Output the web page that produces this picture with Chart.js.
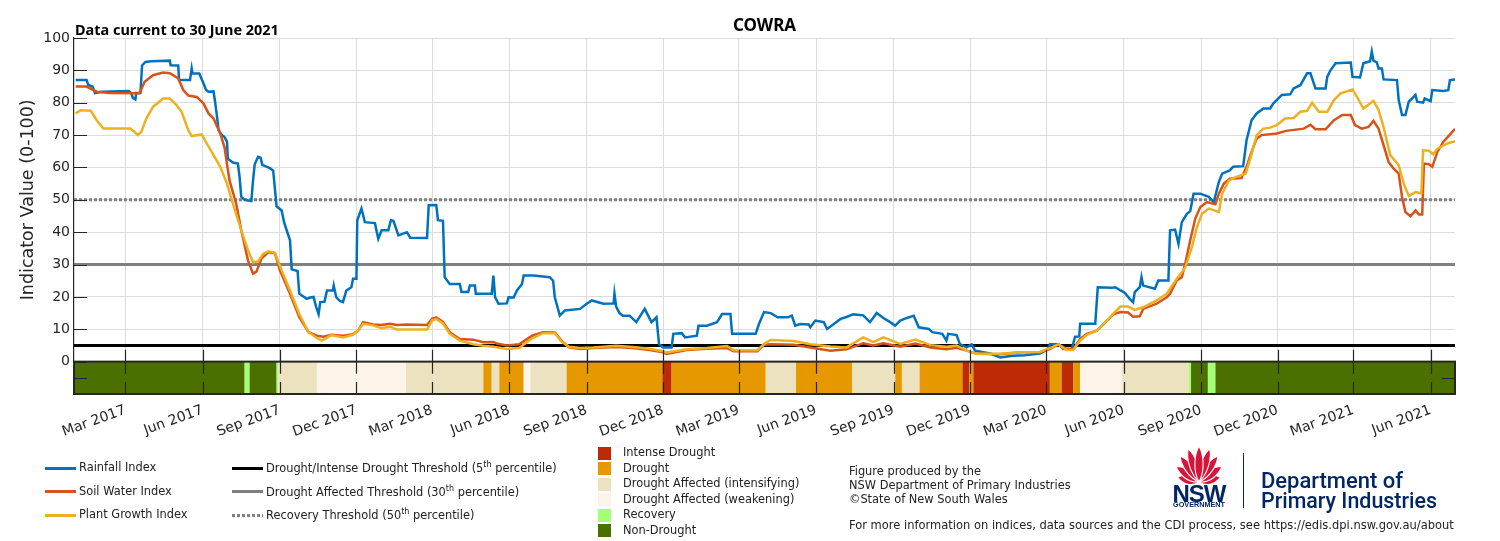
<!DOCTYPE html>
<html><head><meta charset="utf-8">
<script src="https://cdn.jsdelivr.net/npm/chart.js@4.4.1/dist/chart.umd.min.js"></script>
<style>
html,body{margin:0;padding:0;background:#fff;}
#wrap{position:relative;width:1500px;height:541px;overflow:hidden;font-family:'DejaVu Sans',sans-serif;color:#262626;}
#c{position:absolute;left:0;top:0;}
.t{position:absolute;white-space:nowrap;line-height:1;transform:translateY(-50%);}
.tc{position:absolute;white-space:nowrap;line-height:1;transform:translate(-50%,-50%);}
.ln{position:absolute;height:3px;width:31px;}
.sq{position:absolute;width:13px;height:13px;}
.lg{font-size:11.4px;color:#222;}
sup{font-size:8px;line-height:0;vertical-align:5px;}
</style></head>
<body><div id="wrap">
<canvas id="c" width="1500" height="541"></canvas>
<div class="tc" id="ttl" style="left:764.5px;top:24px;font-family:'Noto Sans';font-weight:bold;font-size:17px;color:#000;">COWRA</div>
<div class="t" id="cur" style="left:75px;top:30px;font-family:'Noto Sans';font-weight:bold;font-size:13px;color:#000;">Data current to 30 June 2021</div>

<div class="ln" style="left:45px;top:466.5px;background:#0072BD"></div>
<div class="t lg" style="left:79px;top:468px">Rainfall Index</div>
<div class="ln" style="left:45px;top:490px;background:#D95319"></div>
<div class="t lg" style="left:79px;top:491.5px">Soil Water Index</div>
<div class="ln" style="left:45px;top:513.5px;background:#EDB120"></div>
<div class="t lg" style="left:79px;top:515px">Plant Growth Index</div>

<div class="ln" style="left:232px;top:466.5px;background:#000"></div>
<div class="t lg" style="left:266px;top:469px">Drought/Intense Drought Threshold (5<sup>th</sup> percentile)</div>
<div class="ln" style="left:232px;top:490px;background:#808080"></div>
<div class="t lg" style="left:266px;top:492.5px">Drought Affected Threshold (30<sup>th</sup> percentile)</div>
<div class="ln" style="left:232px;top:513.5px;background:repeating-linear-gradient(to right,#808080 0 3px,transparent 3px 5px)"></div>
<div class="t lg" style="left:266px;top:516px">Recovery Threshold (50<sup>th</sup> percentile)</div>

<div id="catLegend"></div>

<div class="t lg" style="left:849px;top:472px">Figure produced by the</div>
<div class="t lg" style="left:849px;top:486px">NSW Department of Primary Industries</div>
<div class="t lg" style="left:849px;top:500px">©State of New South Wales</div>
<div class="t lg" id="more" style="left:849px;top:526px">For more information on indices, data sources and the CDI process, see https://edis.dpi.nsw.gov.au/about</div>

<svg style="position:absolute;left:1171px;top:445px" width="56" height="40" viewBox="0 0 56 40">
 <g fill="#D7153A" stroke="#fff" stroke-width="1.1">
  <path transform="translate(28,37) rotate(-78)" d="M0 0 C-7 -7,-5 -16,0 -22 C5 -16,7 -7,0 0Z"/>
  <path transform="translate(28,37) rotate(78)" d="M0 0 C-7 -7,-5 -16,0 -22 C5 -16,7 -7,0 0Z"/>
  <path transform="translate(28,37) rotate(-56)" d="M0 0 C-7 -9,-5 -20,0 -28 C5 -20,7 -9,0 0Z"/>
  <path transform="translate(28,37) rotate(56)" d="M0 0 C-7 -9,-5 -20,0 -28 C5 -20,7 -9,0 0Z"/>
  <path transform="translate(28,37) rotate(-36)" d="M0 0 C-6 -10,-5 -24,0 -32 C5 -24,6 -10,0 0Z"/>
  <path transform="translate(28,37) rotate(36)" d="M0 0 C-6 -10,-5 -24,0 -32 C5 -24,6 -10,0 0Z"/>
  <path transform="translate(28,37) rotate(-18)" d="M0 0 C-6 -11,-5 -26,0 -35 C5 -26,6 -11,0 0Z"/>
  <path transform="translate(28,37) rotate(18)" d="M0 0 C-6 -11,-5 -26,0 -35 C5 -26,6 -11,0 0Z"/>
  <path transform="translate(28,37)" d="M0 0 C-6 -11,-5 -27,0 -36 C5 -27,6 -11,0 0Z"/>
 </g>
</svg>
<div class="tc" id="nsw" style="left:1199px;top:494px;font-family:'Liberation Sans';font-weight:bold;font-size:24px;color:#002664;letter-spacing:-1px">NSW</div>
<div class="tc" id="gov" style="left:1199px;top:505px;font-family:'Liberation Sans';font-weight:bold;font-size:5px;color:#002664;">GOVERNMENT</div>
<div style="position:absolute;left:1242.5px;top:453px;width:1.5px;height:55px;background:#002664"></div>
<div class="t" id="dep1" style="left:1261px;top:481px;font-family:Roboto;font-weight:500;font-size:20px;color:#002664;">Department of</div>
<div class="t" id="dep2" style="left:1261px;top:501px;font-family:Roboto;font-weight:500;font-size:20px;color:#002664;">Primary Industries</div>
</div>
<script>
// ---------------- data ----------------
const axisStart = '2016-12-30';
const axisEnd = '2021-06-30';
const tickDates = ['2017-03-01','2017-06-01','2017-09-01','2017-12-01','2018-03-01','2018-06-01','2018-09-01','2018-12-01','2019-03-01','2019-06-01','2019-09-01','2019-12-01','2020-03-01','2020-06-01','2020-09-01','2020-12-01','2021-03-01','2021-06-01'];
const tickLabels = ['Mar 2017','Jun 2017','Sep 2017','Dec 2017','Mar 2018','Jun 2018','Sep 2018','Dec 2018','Mar 2019','Jun 2019','Sep 2019','Dec 2019','Mar 2020','Jun 2020','Sep 2020','Dec 2020','Mar 2021','Jun 2021'];
const yTickValues = [-5,0,10,20,30,40,50,60,70,80,90,100];

const rainDates = ['2017-01-01','2017-01-14','2017-01-16','2017-01-21','2017-01-24','2017-02-01','2017-03-05','2017-03-08','2017-03-10','2017-03-13','2017-03-14','2017-03-19','2017-03-21','2017-03-25','2017-04-01','2017-04-23','2017-04-24','2017-05-03','2017-05-04','2017-05-17','2017-05-19','2017-05-20','2017-05-28','2017-06-02','2017-06-05','2017-06-08','2017-06-14','2017-06-16','2017-06-18','2017-06-20','2017-06-23','2017-06-27','2017-06-30','2017-07-01','2017-07-07','2017-07-13','2017-07-15','2017-07-17','2017-07-21','2017-07-29','2017-07-31','2017-08-02','2017-08-06','2017-08-09','2017-08-11','2017-08-20','2017-08-24','2017-08-28','2017-09-03','2017-09-06','2017-09-09','2017-09-13','2017-09-15','2017-09-22','2017-09-24','2017-10-03','2017-10-07','2017-10-11','2017-10-14','2017-10-17','2017-10-19','2017-10-24','2017-10-27','2017-11-03','2017-11-04','2017-11-07','2017-11-11','2017-11-15','2017-11-19','2017-11-25','2017-11-27','2017-12-01','2017-12-02','2017-12-07','2017-12-11','2017-12-23','2017-12-27','2017-12-31','2018-01-08','2018-01-11','2018-01-14','2018-01-20','2018-01-30','2018-02-03','2018-02-23','2018-02-25','2018-03-06','2018-03-08','2018-03-14','2018-03-16','2018-03-22','2018-04-03','2018-04-05','2018-04-13','2018-04-15','2018-04-21','2018-04-22','2018-05-11','2018-05-13','2018-05-15','2018-05-19','2018-05-29','2018-05-31','2018-06-06','2018-06-10','2018-06-16','2018-06-18','2018-06-30','2018-07-19','2018-07-23','2018-07-25','2018-07-31','2018-08-06','2018-08-24','2018-09-01','2018-09-07','2018-09-21','2018-10-03','2018-10-04','2018-10-06','2018-10-10','2018-10-14','2018-10-22','2018-10-30','2018-11-09','2018-11-17','2018-11-23','2018-11-26','2018-12-01','2018-12-11','2018-12-13','2018-12-23','2018-12-27','2019-01-10','2019-01-12','2019-01-22','2019-02-03','2019-02-09','2019-02-19','2019-02-21','2019-03-21','2019-03-25','2019-03-31','2019-04-08','2019-04-16','2019-04-28','2019-05-03','2019-05-07','2019-05-13','2019-05-23','2019-05-25','2019-05-31','2019-06-10','2019-06-14','2019-06-22','2019-06-30','2019-07-07','2019-07-15','2019-07-27','2019-08-04','2019-08-12','2019-08-20','2019-08-28','2019-09-03','2019-09-09','2019-09-17','2019-09-25','2019-10-01','2019-10-13','2019-10-17','2019-10-29','2019-11-03','2019-11-05','2019-11-15','2019-11-19','2019-11-27','2019-12-03','2019-12-07','2019-12-25','2020-01-06','2020-01-21','2020-02-04','2020-02-22','2020-03-03','2020-03-05','2020-03-15','2020-03-21','2020-03-31','2020-04-04','2020-04-09','2020-04-10','2020-04-28','2020-05-01','2020-05-18','2020-05-22','2020-05-28','2020-06-02','2020-06-08','2020-06-12','2020-06-14','2020-06-20','2020-06-22','2020-06-24','2020-07-08','2020-07-12','2020-07-24','2020-07-26','2020-08-01','2020-08-05','2020-08-09','2020-08-15','2020-08-19','2020-08-23','2020-08-31','2020-09-10','2020-09-16','2020-09-22','2020-09-26','2020-10-05','2020-10-09','2020-10-21','2020-10-25','2020-10-27','2020-10-31','2020-11-06','2020-11-14','2020-11-22','2020-11-26','2020-12-06','2020-12-16','2020-12-20','2020-12-28','2021-01-05','2021-01-09','2021-01-15','2021-01-27','2021-01-29','2021-02-02','2021-02-08','2021-02-26','2021-02-28','2021-03-09','2021-03-13','2021-03-21','2021-03-23','2021-03-25','2021-03-29','2021-03-31','2021-04-04','2021-04-06','2021-04-22','2021-04-24','2021-04-28','2021-05-02','2021-05-06','2021-05-14','2021-05-16','2021-05-23','2021-05-25','2021-06-01','2021-06-03','2021-06-16','2021-06-22','2021-06-24','2021-06-30'];
const rainValues = [87,87,85.5,85,83,83.4,83.6,83,81.5,81,83,83,91.5,92.6,92.8,93,91.6,91.5,87,87,90.6,89,89,86,84,83.4,83.5,80,76,71.5,70.3,69.4,68,62.7,61.5,61.2,57,51,50,49.6,56,61,63.3,63,60.8,59.8,59,48,46.7,43,40.6,37.5,28.5,28,21,19.4,19.8,20,17,14.7,18.4,18.5,22,22,23.5,19.9,18.8,18.4,22,23,25.6,25.6,43.7,47.3,43.1,42.8,38,40.6,40.6,43.7,43.5,39,40,38.3,38.2,48.3,48.4,43.7,43.5,26.1,24,24,21.5,21.5,23.5,23.5,21,21,26.6,19.9,17.9,18,19.9,19.8,22,24,26.6,26.6,26.1,25,19.9,14.2,15.8,16.3,17.9,18.9,17.9,18,21,17,15,14.2,14.2,12.2,16.3,12.2,13.7,5.4,4.4,4.4,8.6,8.8,7.5,8,11.1,11.1,12.2,14.7,14.7,8.6,8.6,11.7,15.3,15,13.7,13.7,14.2,11.1,11.6,11.5,10.6,12.7,12.2,10.1,11.6,13.2,13.8,14.6,14.3,12.2,15,13.5,12.2,11.1,12.7,13.5,14.2,10.6,10.1,9.1,8.6,6.5,8.6,8.2,5.4,4.4,5.3,3.4,2.5,1.3,1.8,2,2.5,3.9,5.4,5.4,3.9,3.9,7.7,7.8,11.7,11.7,23,22.8,23,22,21.3,19.4,18.4,21.5,23,26.1,23.5,22.5,25.1,25.1,40.6,40.8,36.4,43.1,45.7,46.5,51.9,51.9,50.9,49.3,55.5,58.1,59.1,60.2,60.4,68.4,70.5,74.6,76.7,78.2,78.2,79.8,82.4,82.6,84.4,85.4,89.1,89.1,84.4,84.4,88,90.1,92.2,92.4,88,87.8,92.2,92.8,95.8,93,92.5,90.6,90.6,87.2,87,80.8,76.2,76.2,80.3,82.4,80.3,80,81.3,80.5,83.9,83.6,83.9,87,87.2];

const soilDates = ['2017-01-01','2017-01-14','2017-01-26','2017-02-10','2017-03-18','2017-03-24','2017-04-03','2017-04-15','2017-04-23','2017-05-03','2017-05-09','2017-05-15','2017-05-25','2017-06-02','2017-06-08','2017-06-14','2017-06-22','2017-06-27','2017-07-03','2017-07-11','2017-07-17','2017-07-25','2017-07-31','2017-08-04','2017-08-10','2017-08-18','2017-08-26','2017-09-01','2017-09-13','2017-09-24','2017-10-05','2017-10-15','2017-10-23','2017-11-01','2017-11-15','2017-11-27','2017-12-03','2017-12-09','2017-12-21','2017-12-31','2018-01-10','2018-01-18','2018-01-30','2018-02-23','2018-03-01','2018-03-06','2018-03-14','2018-03-22','2018-04-03','2018-04-19','2018-05-01','2018-05-13','2018-05-17','2018-05-29','2018-06-13','2018-06-28','2018-07-11','2018-07-25','2018-08-02','2018-08-11','2018-08-24','2018-09-09','2018-10-06','2018-10-26','2018-11-15','2018-12-01','2018-12-05','2018-12-29','2019-01-22','2019-02-15','2019-02-23','2019-03-23','2019-03-31','2019-04-08','2019-05-05','2019-05-25','2019-06-18','2019-07-07','2019-07-27','2019-08-08','2019-08-20','2019-09-09','2019-09-27','2019-10-15','2019-11-03','2019-11-15','2019-11-27','2019-12-09','2020-01-06','2020-01-30','2020-02-22','2020-03-05','2020-03-15','2020-03-25','2020-04-02','2020-04-10','2020-04-18','2020-04-30','2020-05-12','2020-05-20','2020-05-28','2020-06-06','2020-06-12','2020-06-20','2020-06-24','2020-07-10','2020-07-22','2020-07-26','2020-08-03','2020-08-09','2020-08-13','2020-08-19','2020-08-25','2020-08-31','2020-09-08','2020-09-18','2020-09-22','2020-09-28','2020-10-05','2020-10-19','2020-10-25','2020-10-31','2020-11-06','2020-11-12','2020-11-30','2020-12-11','2021-01-01','2021-01-09','2021-01-15','2021-01-27','2021-02-06','2021-02-16','2021-02-26','2021-03-03','2021-03-11','2021-03-19','2021-03-25','2021-03-31','2021-04-06','2021-04-12','2021-04-18','2021-04-24','2021-04-28','2021-05-02','2021-05-08','2021-05-14','2021-05-18','2021-05-22','2021-05-24','2021-05-30','2021-06-03','2021-06-09','2021-06-16','2021-06-30'];
const soilValues = [85,85,83.4,83,82.9,86.5,88.5,89.3,89.1,87.5,83.9,82.2,81.8,79.8,76.7,75.1,70.5,66.3,56,48.8,40.6,31.3,27.2,27.8,31.8,33.8,33.5,28.2,21,13.7,9.1,8,7.7,8.3,8,8.5,9.6,12.2,11.5,11.3,11.7,11.3,11.5,11.3,13.2,13.7,12.3,9.1,7,6.8,6,6.1,5.6,5,5.4,8,9.1,9,6.5,4.4,3.9,4.2,4.5,4.2,3.6,2.9,2.4,3.6,4,4.2,3.2,3.2,5.2,5.4,5.2,4.4,3.4,3.8,5.7,5,5.7,4.6,5.6,4.4,3.8,4.3,3.4,2.4,2.3,2.9,2.9,3.9,5.4,3.9,3.9,7,8.6,9.6,12.7,14.7,15.3,15.2,13.9,14,16.3,17.9,19.9,21,25.1,26.1,30.2,37.5,44.2,47.8,49.3,48.6,51.9,55,56.5,56.7,60.2,64.8,68.9,70,70.5,71.3,72,73.2,71.8,71.8,74.6,76.2,76.2,73.1,72,72.5,74.4,72,66.9,61.7,59.6,58.1,50.9,46.2,44.9,46.7,45.5,45.5,61.2,61,60.2,64.8,67.9,71.9];

const plantDates = ['2017-01-01','2017-01-07','2017-01-19','2017-01-26','2017-02-03','2017-03-07','2017-03-12','2017-03-16','2017-03-20','2017-03-26','2017-04-03','2017-04-15','2017-04-23','2017-05-01','2017-05-07','2017-05-15','2017-05-19','2017-05-31','2017-06-06','2017-06-14','2017-06-22','2017-06-30','2017-07-07','2017-07-17','2017-07-25','2017-07-31','2017-08-06','2017-08-12','2017-08-18','2017-08-26','2017-09-03','2017-09-13','2017-09-24','2017-10-05','2017-10-17','2017-10-21','2017-11-01','2017-11-15','2017-11-27','2017-12-03','2017-12-09','2017-12-21','2017-12-31','2018-01-10','2018-01-18','2018-02-23','2018-03-01','2018-03-06','2018-03-14','2018-03-22','2018-04-03','2018-04-19','2018-05-01','2018-05-13','2018-05-29','2018-06-13','2018-06-28','2018-07-11','2018-07-25','2018-08-02','2018-08-11','2018-08-24','2018-09-09','2018-10-06','2018-10-26','2018-11-15','2018-12-01','2018-12-05','2018-12-29','2019-01-22','2019-02-15','2019-02-23','2019-03-23','2019-03-31','2019-04-08','2019-05-05','2019-05-25','2019-06-18','2019-07-07','2019-07-27','2019-08-08','2019-08-20','2019-09-09','2019-09-27','2019-10-15','2019-11-03','2019-11-15','2019-11-27','2019-12-09','2020-01-06','2020-01-30','2020-02-22','2020-03-05','2020-03-15','2020-03-25','2020-04-02','2020-04-10','2020-04-18','2020-04-30','2020-05-12','2020-05-20','2020-05-28','2020-06-06','2020-06-14','2020-06-24','2020-07-10','2020-07-22','2020-08-03','2020-08-13','2020-08-21','2020-08-27','2020-09-02','2020-09-10','2020-09-16','2020-09-22','2020-09-26','2020-10-04','2020-10-12','2020-10-24','2020-10-30','2020-11-06','2020-11-14','2020-11-22','2020-11-30','2020-12-10','2020-12-20','2020-12-28','2021-01-05','2021-01-11','2021-01-19','2021-01-29','2021-02-06','2021-02-14','2021-02-28','2021-03-05','2021-03-13','2021-03-25','2021-03-31','2021-04-06','2021-04-14','2021-04-24','2021-04-30','2021-05-06','2021-05-14','2021-05-21','2021-05-23','2021-05-30','2021-06-04','2021-06-09','2021-06-21','2021-06-30'];
const plantValues = [76.7,77.7,77.5,74.6,72,72,71,70,71,75.1,78.7,81.3,81.3,79.3,77.2,71.5,69.7,70.2,67.4,63.8,60.2,55,48.8,40.6,34.4,30.7,31,33.3,34.1,33.6,28.2,22,14.7,9.1,7,6.5,8.2,7.5,8.3,9.6,11.7,11.2,10.3,10.8,9.9,9.9,12.7,13.2,11.8,8.6,6.5,5.4,4.9,4.6,3.9,4.3,7.2,8.8,8.8,6.2,4.6,4.2,4.4,4.9,4.5,4,3.2,2.8,3.8,4.2,4.8,3.5,3.5,5.5,6.7,6.4,5.4,4.7,4.4,7.5,6,7.5,5.5,6.8,5.1,4.6,5,3.4,2.4,2.4,2.9,3,4.2,5.3,3.6,3.6,6.5,8.3,9.6,12.7,15,17,17,16,16.8,18.9,21,25.6,29,35.4,41.6,45.7,47.3,46.8,46.2,51.9,56,57,58.1,63.2,70,72,72.3,73.1,75.1,75.3,77.2,77.5,80,77.2,77.2,80.8,82.9,84.1,82,78.2,80.6,77.8,72.5,63.8,60.7,55,51.2,52.4,52,65.3,65.2,64.1,65.8,67.4,68.1];

const thresholdDrought = 5;
const thresholdAffected = 30;
const thresholdRecovery = 50;

// drought category strip: start date of each period and its category
const stripStarts = ['2016-12-30','2017-07-21','2017-07-27','2017-08-28','2017-08-30','2017-10-15','2018-01-29','2018-05-01','2018-05-11','2018-05-20','2018-06-18','2018-06-26','2018-08-08','2018-11-30','2018-12-11','2019-04-02','2019-05-08','2019-07-14','2019-09-03','2019-09-11','2019-10-02','2019-11-22','2019-11-30','2019-12-05','2020-03-05','2020-03-19','2020-04-02','2020-04-10','2020-05-30','2020-08-17','2020-08-20','2020-09-09','2020-09-18'];
const stripCats = ['ND','R','ND','R','DAI','DAW','DAI','D','DAI','D','DAW','DAI','D','ID','D','DAI','D','DAI','D','DAI','D','ID','D','ID','D','ID','D','DAW','DAI','R','ND','R','ND'];
const stripRange = [-10, 0];

const catNames = {ID:'Intense Drought', D:'Drought', DAI:'Drought Affected (intensifying)', DAW:'Drought Affected (weakening)', R:'Recovery', ND:'Non-Drought'};
const catOrder = ['ID','D','DAI','DAW','R','ND'];
const catColors = {ID:'#BF2A06', D:'#E69800', DAI:'#EDE2BF', DAW:'#FCF4E9', R:'#A3FF73', ND:'#4C7000'};

// ---------------- helpers ----------------
const DAY = 864e5;
const dn = s => { const [y,m,d] = s.split('-').map(Number); return Date.UTC(y,m-1,d)/DAY; };
const pts = (ds, vs) => ds.map((d,i) => ({x: dn(d), y: vs[i]}));
const xMin = dn(axisStart), xMax = dn(axisEnd);
const tickVals = tickDates.map(dn);
const AX = '#262626';

// category legend
(function(){
  const host = document.getElementById('catLegend');
  const rows = [453, 468.5, 484, 499.5, 515, 530.5];
  catOrder.forEach((k,i) => {
    const sq = document.createElement('div'); sq.className='sq';
    sq.style.left='598px'; sq.style.top=(rows[i]-6.5)+'px'; sq.style.background=catColors[k];
    host.appendChild(sq);
    const t = document.createElement('div'); t.className='t lg';
    t.style.left='623px'; t.style.top=rows[i]+'px'; t.textContent=catNames[k];
    host.appendChild(t);
  });
})();

function fitWidth(id, target){
  const el = document.getElementById(id);
  const cs = getComputedStyle(el);
  const c = document.createElement('canvas').getContext('2d');
  c.font = cs.fontWeight + ' ' + cs.fontSize + ' ' + cs.fontFamily;
  const w = c.measureText(el.textContent).width;
  if (w > 0) el.style.fontSize = (parseFloat(cs.fontSize) * target / w) + 'px';
}
fitWidth('cur', 204);
fitWidth('more', 605);
fitWidth('dep1', 142);
fitWidth('dep2', 176);
fitWidth('gov', 52);

const overlay = {
  id: 'overlay',
  beforeDatasetsDraw(chart){
    const {ctx, scales:{x,y}} = chart;
    const yTop = y.getPixelForValue(stripRange[1]), yBot = y.getPixelForValue(stripRange[0]);
    ctx.save();
    for (let i=0;i<stripStarts.length;i++){
      const xs = x.getPixelForValue(dn(stripStarts[i]));
      const xe = x.getPixelForValue(i+1<stripStarts.length ? dn(stripStarts[i+1]) : xMax);
      ctx.fillStyle = catColors[stripCats[i]];
      ctx.fillRect(xs, yTop, xe-xs, yBot-yTop);
    }
    ctx.restore();
  },
  afterDatasetsDraw(chart){
    const {ctx, scales:{x,y}, chartArea:a} = chart;
    const yTop = y.getPixelForValue(stripRange[1]), yBot = y.getPixelForValue(stripRange[0]);
    ctx.save();
    ctx.strokeStyle = AX; ctx.lineWidth = 1.2;
    ctx.beginPath();
    tickVals.forEach(v => {
      const px = Math.round(x.getPixelForValue(v)) + 0.5;
      ctx.moveTo(px, yTop); ctx.lineTo(px, yTop-12);
      ctx.moveTo(px, yTop); ctx.lineTo(px, yTop+12);
      ctx.moveTo(px, yBot); ctx.lineTo(px, yBot-12);
    });
    yTickValues.forEach(v => {
      const py = Math.round(y.getPixelForValue(v)) + 0.5;
      ctx.moveTo(a.left, py); ctx.lineTo(a.left+13, py);
      if (v < 0) { ctx.moveTo(a.right, py); ctx.lineTo(a.right-13, py); }
    });
    ctx.stroke();
    ctx.lineWidth = 2;
    ctx.strokeRect(a.left, yTop, a.right-a.left, yBot-yTop);
    ctx.restore();
  },
  afterDraw(chart){
    const {ctx, scales:{y}, chartArea:a} = chart;
    ctx.save();
    ctx.translate(28, (a.top + y.getPixelForValue(0))/2);
    ctx.rotate(-Math.PI/2);
    ctx.font = '17.5px "DejaVu Sans"';
    ctx.fillStyle = AX; ctx.textAlign='center'; ctx.textBaseline='middle';
    ctx.fillText('Indicator Value (0-100)', 0, 0);
    ctx.restore();
  }
};

const lineDs = (label, data, color, width, extra) => Object.assign({
  label, data, borderColor: color, backgroundColor: color, borderWidth: width,
  pointRadius: 0, tension: 0, fill: false
}, extra || {});

new Chart(document.getElementById('c'), {
  type: 'line',
  data: { datasets: [
    lineDs('Plant Growth Index', pts(plantDates, plantValues), '#EDB120', 2.5),
    lineDs('Soil Water Index', pts(soilDates, soilValues), '#D95319', 2.5),
    lineDs('Rainfall Index', pts(rainDates, rainValues), '#0072BD', 2.5),
    lineDs('Recovery Threshold (50th percentile)', [{x:xMin,y:thresholdRecovery},{x:xMax,y:thresholdRecovery}], '#808080', 3, {borderDash:[3,2]}),
    lineDs('Drought Affected Threshold (30th percentile)', [{x:xMin,y:thresholdAffected},{x:xMax,y:thresholdAffected}], '#808080', 3),
    lineDs('Drought/Intense Drought Threshold (5th percentile)', [{x:xMin,y:thresholdDrought},{x:xMax,y:thresholdDrought}], '#000000', 3)
  ]},
  options: {
    responsive: false, animation: false, events: [], devicePixelRatio: 1,
    layout: { padding: { left: 0, top: 38, right: 45, bottom: 0 } },
    plugins: { legend: { display: false }, tooltip: { enabled: false } },
    scales: {
      x: {
        type: 'linear', min: xMin, max: xMax,
        afterBuildTicks: s => { s.ticks = tickVals.map(v => ({value: v})); },
        afterFit: s => { s.height = 147; s.paddingLeft = 0; s.paddingRight = 0; },
        ticks: { autoSkip: false, maxRotation: 20, minRotation: 20, padding: 8, color: AX,
          font: { family: 'DejaVu Sans', size: 14 },
          callback: v => { const i = tickVals.indexOf(v); return i >= 0 ? tickLabels[i] : ''; } },
        grid: { color: '#dcdcdc', lineWidth: 1, drawTicks: false },
        border: { display: false }
      },
      y: {
        min: -10, max: 100,
        afterBuildTicks: s => { s.ticks = yTickValues.map(v => ({value: v})); },
        afterFit: s => { s.width = 74; s.paddingTop = 0; s.paddingBottom = 0; },
        ticks: { padding: 4, color: AX, font: { family: 'DejaVu Sans', size: 14 },
          callback: v => v < 0 ? '' : String(v) },
        grid: { drawTicks: false, lineWidth: 1,
          color: c => (c.tick && c.tick.value > 0) ? '#dcdcdc' : 'rgba(0,0,0,0)' },
        border: { color: AX, width: 1.2 }
      }
    }
  },
  plugins: [overlay]
});
</script>
</body></html>
